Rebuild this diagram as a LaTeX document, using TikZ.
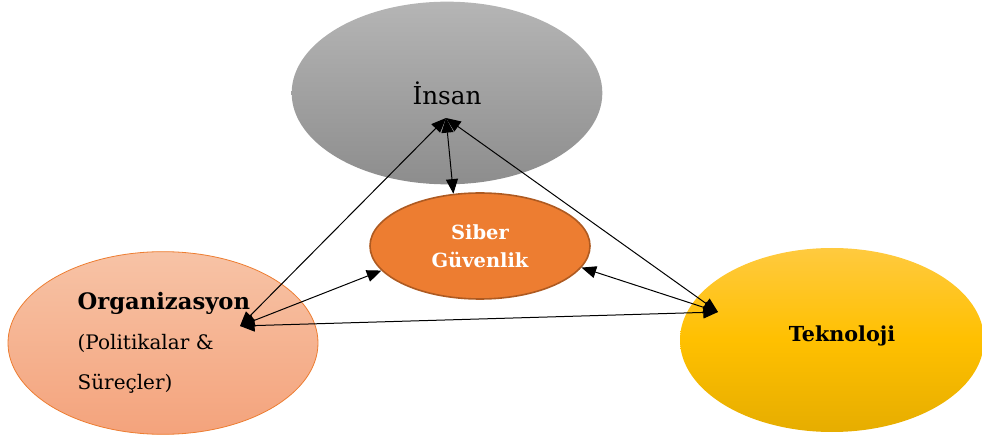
\documentclass[tikz,border=0pt]{standalone}
\usepackage{fontspec}
\setmainfont{DejaVu Serif}
\usetikzlibrary{arrows.meta, shapes.geometric}
\definecolor{insantop}{HTML}{B5B5B5}
\definecolor{insanbottom}{HTML}{8D8D8D}
\definecolor{siberfill}{HTML}{ED7D31}
\definecolor{siberborder}{HTML}{AE5A21}
\definecolor{orgtop}{HTML}{F7C3A6}
\definecolor{orgbottom}{HTML}{F4A37C}
\definecolor{orgborder}{HTML}{ED7D31}
\definecolor{tektop}{HTML}{FFCA3F}
\definecolor{tekmid}{HTML}{FFC000}
\definecolor{tekbottom}{HTML}{E6AD00}

\begin{document}
\begin{tikzpicture}[
    x=0.75pt, y=-0.75pt,
    >={Triangle[length=11pt, width=9pt]},
    blob/.style={ellipse, inner sep=0pt, align=center},
    link/.style={<->, line width=0.75pt},
]
\useasboundingbox (0,0) rectangle (982,438);

% === ELLIPSES ===
\node[blob, minimum width=233pt, minimum height=137pt,
      top color=insantop, bottom color=insanbottom,
      font=\fontsize{18.5}{22}\selectfont] (insan) at (447,93) {İnsan};

\node[blob, minimum width=232.5pt, minimum height=137pt,
      top color=orgtop, bottom color=orgbottom, draw=orgborder, line width=0.6pt,
      font=\fontsize{15}{30}\selectfont, align=left, text width=128pt]
    (org) at (163,343)
    {{\bfseries\fontsize{17}{30}\selectfont Organizasyon}\\(Politikalar \&\\Süreçler)};

\node[blob, minimum width=228pt, minimum height=138pt,
      top color=tektop, bottom color=tekbottom, middle color=tekmid] (tek) at (832,340) {};
\node[font=\bfseries\fontsize{15.5}{18}\selectfont, inner sep=0pt]
    (tek-text) at (842,336) {Teknoloji};

\node[blob, minimum width=165pt, minimum height=79.5pt,
      fill=siberfill, draw=siberborder, line width=1.2pt,
      text=white, font=\bfseries\fontsize{14.6}{21}\selectfont]
    (siber) at (480,246) {Siber\\Güvenlik};

% === HUBS ===
\coordinate (insan-hub) at (446,118);
\coordinate (org-hub) at (240,326);
\coordinate (tek-hub) at (718,312);

% === LINKS ===
\draw[link] (insan-hub) -- (org-hub);
\draw[link] (insan-hub) -- (siber.117);
\draw[link] (insan-hub) -- (tek-hub);
\draw[link] (org-hub) -- (siber.194);
\draw[link] (siber.-12) -- (tek-hub);
\draw[link] (org-hub) -- (tek-hub);

\end{tikzpicture}
\end{document}
